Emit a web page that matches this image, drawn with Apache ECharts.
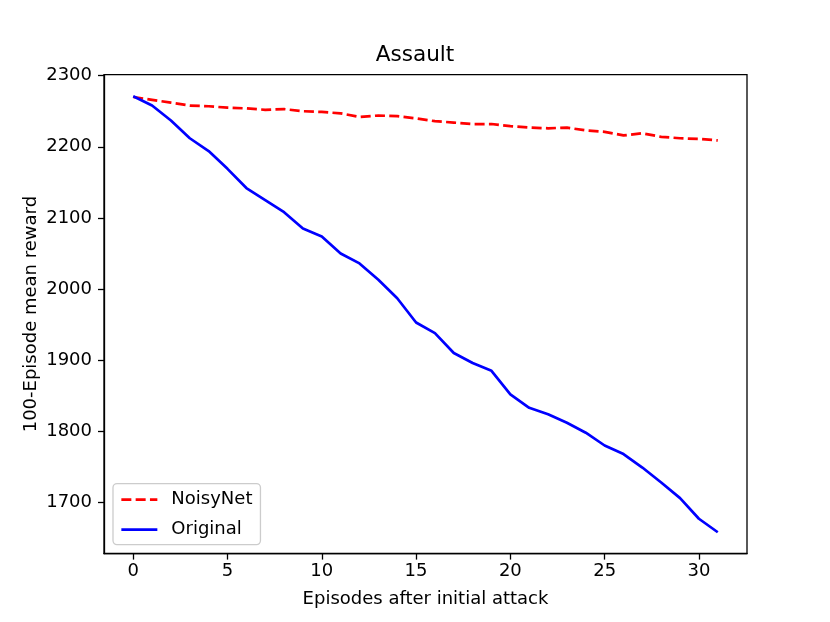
<!DOCTYPE html>
<html>
<head>
<meta charset="utf-8">
<script src="https://cdn.jsdelivr.net/npm/echarts@6/dist/echarts.min.js"></script>
<style>
html,body{margin:0;padding:0;background:#fff;}
#chart{width:830px;height:622px;}
</style>
</head>
<body>
<div id="chart"></div>
<script>
const episodes = [0,1,2,3,4,5,6,7,8,9,10,11,12,13,14,15,16,17,18,19,20,21,22,23,24,25,26,27,28,29,30,31];
const noisyNet = [2270,2266,2262,2258,2257,2255,2254,2252,2253,2250,2249,2247,2242,2244,2243,2240,2236,2234,2232,2232,2229,2227,2226,2227,2223,2221,2216,2219,2214,2212,2211,2209];
const original = [2271,2258,2237,2212,2194,2169,2142,2125,2108,2085,2074,2050,2036,2013,1987,1953,1938,1910,1896,1885,1852,1833,1824,1812,1798,1780,1768,1749,1728,1706,1677,1658];
const xTicks = [0,5,10,15,20,25,30];
const yTicks = [1700,1800,1900,2000,2100,2200,2300];

const FONT = 'DejaVu Sans';
const chart = echarts.init(document.getElementById('chart'), null, {renderer:'canvas'});
const pair = (xs, ys) => xs.map((x,i)=>[x, ys[i]]);

chart.setOption({
  animation:false,
  backgroundColor:'#fff',
  title:{text:'Assault', left:'center', top:44, padding:0,
    textStyle:{fontFamily:FONT, fontSize:21.6, fontWeight:'normal', color:'#000'}},
  grid:{left:104, right:83, top:74.6, bottom:68.4, show:true, borderColor:'#000', borderWidth:1.3, containLabel:false},
  legend:{
    orient:'vertical', left:113, bottom:77.4,
    padding:[7,8,6,7], itemWidth:36, itemHeight:14, itemGap:12,
    backgroundColor:'rgba(255,255,255,0.8)', borderColor:'#cccccc', borderWidth:1.3, borderRadius:4,
    itemStyle:{opacity:0},
    lineStyle:{width:2.7},
    textStyle:{fontFamily:FONT, fontSize:18, color:'#000', padding:[0,0,0,9]},
    data:['NoisyNet','Original']
  },
  xAxis:{
    type:'value', min:-1.55, max:32.55,
    name:'Episodes after initial attack', nameLocation:'middle', nameGap:37,
    nameTextStyle:{fontFamily:FONT, fontSize:18, color:'#000'},
    splitLine:{show:false},
    axisLine:{show:true, onZero:false, lineStyle:{color:'#000', width:1.3}},
    axisTick:{show:true, inside:false, length:6, lineStyle:{color:'#000', width:1.3}, customValues:xTicks},
    axisLabel:{fontFamily:FONT, fontSize:18, color:'#000', margin:9, customValues:xTicks, formatter:v=>String(v)}
  },
  yAxis:{
    type:'value', min:1628, max:2301.5,
    name:'100-Episode mean reward', nameLocation:'middle', nameGap:64, nameRotate:90, nameMoveOverlap:false,
    nameTextStyle:{fontFamily:FONT, fontSize:18, color:'#000'},
    splitLine:{show:false},
    axisLine:{show:true, onZero:false, lineStyle:{color:'#000', width:1.3}},
    axisTick:{show:true, inside:false, length:6, lineStyle:{color:'#000', width:1.3}, customValues:yTicks},
    axisLabel:{fontFamily:FONT, fontSize:18, color:'#000', margin:12, customValues:yTicks, formatter:v=>String(v)}
  },
  series:[
    {name:'NoisyNet', type:'line', data:pair(episodes, noisyNet), symbol:'none',
      itemStyle:{color:'#ff0000'},
      lineStyle:{color:'#ff0000', width:2.7, type:[10,4.3], cap:'butt'}},
    {name:'Original', type:'line', data:pair(episodes, original), symbol:'none',
      itemStyle:{color:'#0000ff'},
      lineStyle:{color:'#0000ff', width:2.7, type:'solid'}}
  ]
});
</script>
</body>
</html>
